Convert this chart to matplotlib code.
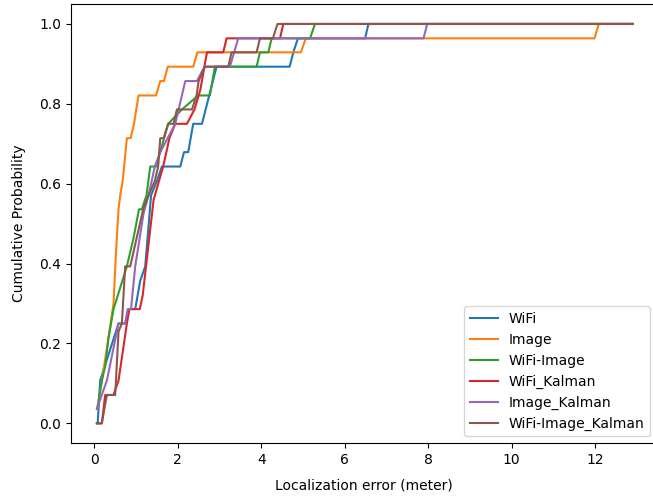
import matplotlib
matplotlib.use('Agg')
import matplotlib.pyplot as plt

# 各方法的定位误差CDF
labels = ['WiFi', 'Image', 'WiFi-Image', 'WiFi_Kalman', 'Image_Kalman', 'WiFi-Image_Kalman']

wifi_x = [0.08, 0.14, 0.58, 0.74, 0.82, 0.98, 1.10, 1.22, 1.36, 1.50, 1.62, 2.06, 2.15, 2.25,
          2.37, 2.58, 2.93, 4.68, 4.77, 4.88, 6.49, 6.57, 12.91]
wifi_y = [0.0, 0.107, 0.25, 0.25, 0.286, 0.286, 0.357, 0.393, 0.571, 0.607, 0.643, 0.643, 0.679, 0.679,
          0.75, 0.75, 0.893, 0.893, 0.929, 0.964, 0.964, 1.0, 1.0]

image_x = [0.07, 0.18, 0.34, 0.46, 0.52, 0.58, 0.62, 0.68, 0.78, 0.87, 0.95, 1.06, 1.48, 1.58,
           1.67, 1.76, 2.37, 2.47, 4.95, 5.07, 11.99, 12.09, 12.91]
image_y = [0.036, 0.107, 0.214, 0.30, 0.43, 0.536, 0.571, 0.607, 0.714, 0.714, 0.75, 0.821, 0.821, 0.857,
           0.857, 0.893, 0.893, 0.929, 0.929, 0.964, 0.964, 1.0, 1.0]

wifi_image_x = [0.07, 0.18, 0.26, 0.34, 0.46, 0.78, 0.94, 1.07, 1.14, 1.25, 1.34, 1.48, 1.77, 2.10,
                2.49, 2.77, 2.89, 3.89, 3.97, 4.17, 4.25, 5.17, 5.29, 12.91]
wifi_image_y = [0.036, 0.107, 0.143, 0.214, 0.286, 0.393, 0.464, 0.536, 0.536, 0.571, 0.643, 0.643, 0.75, 0.786,
                0.821, 0.821, 0.893, 0.893, 0.929, 0.929, 0.964, 0.964, 1.0, 1.0]

wifi_kalman_x = [0.06, 0.18, 0.26, 0.46, 0.58, 0.78, 0.84, 1.09, 1.16, 1.42, 1.55, 1.65, 1.80, 1.94,
                 2.22, 2.40, 2.54, 2.70, 3.09, 3.17, 4.45, 4.53, 12.91]
wifi_kalman_y = [0.0, 0.0, 0.071, 0.071, 0.107, 0.25, 0.286, 0.286, 0.321, 0.559, 0.607, 0.643, 0.714, 0.75,
                 0.75, 0.786, 0.835, 0.929, 0.929, 0.964, 0.964, 1.0, 1.0]

image_kalman_x = [0.06, 0.30, 0.58, 0.74, 0.80, 0.88, 0.98, 1.18, 1.30, 1.45, 1.58, 1.94, 2.18, 2.46,
                  2.64, 3.25, 3.45, 7.89, 7.98, 12.91]
image_kalman_y = [0.036, 0.107, 0.25, 0.25, 0.286, 0.286, 0.393, 0.526, 0.571, 0.643, 0.679, 0.75, 0.857, 0.857,
                  0.893, 0.893, 0.964, 0.964, 1.0, 1.0]

wifi_image_kalman_x = [0.06, 0.18, 0.30, 0.50, 0.58, 0.66, 0.74, 0.86, 1.18, 1.30, 1.45, 1.53, 1.58, 1.66,
                       1.77, 1.90, 1.98, 2.34, 2.45, 2.50, 2.65, 3.21, 3.29, 3.89, 3.97, 4.28, 4.39, 12.91]
wifi_image_kalman_y = [0.0, 0.0, 0.071, 0.071, 0.23, 0.25, 0.393, 0.393, 0.54, 0.571, 0.607, 0.643, 0.714, 0.714,
                       0.75, 0.75, 0.786, 0.786, 0.821, 0.857, 0.893, 0.893, 0.929, 0.929, 0.964, 0.964, 1.0, 1.0]

series = [(wifi_x, wifi_y), (image_x, image_y), (wifi_image_x, wifi_image_y),
          (wifi_kalman_x, wifi_kalman_y), (image_kalman_x, image_kalman_y),
          (wifi_image_kalman_x, wifi_image_kalman_y)]

fig = plt.figure(figsize=(6.53, 5.0), dpi=100)
ax = fig.add_axes([0.1083, 0.1134, 0.898, 0.8786])

for (x, y), lab in zip(series, labels):
    ax.plot(x, y, label=lab)

ax.set_xlim(-0.566, 13.49)
ax.set_ylim(-0.05, 1.05)
ax.set_xticks([0, 2, 4, 6, 8, 10, 12])
ax.set_xlabel('Localization error (meter)', labelpad=8)
ax.set_ylabel('Cumulative Probability', labelpad=9)
ax.legend(loc='lower right')

fig.savefig('out.png', dpi=100)
